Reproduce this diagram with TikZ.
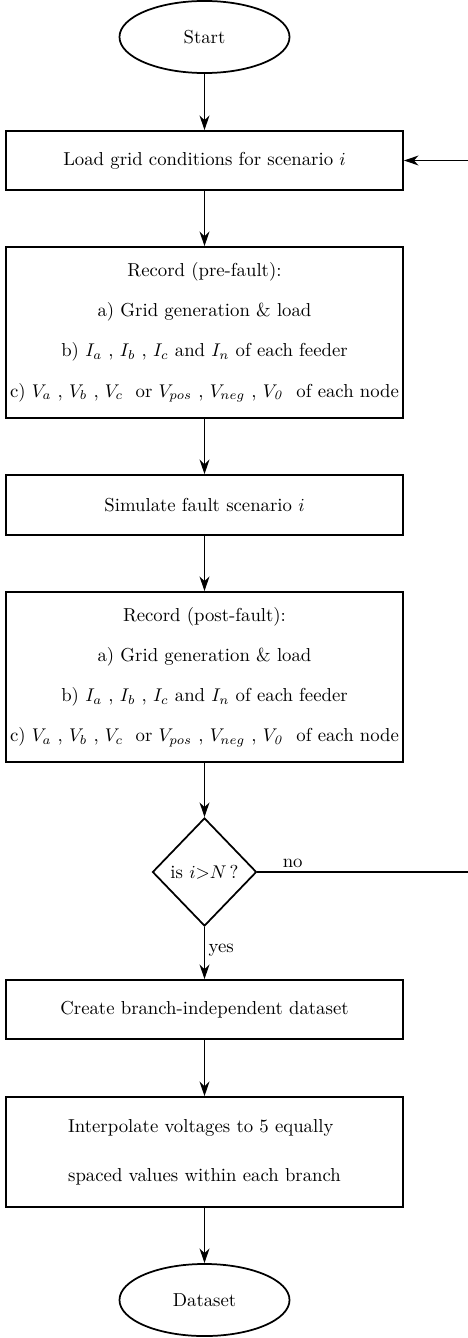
\documentclass[tikz,border=0pt]{standalone}
\usetikzlibrary{shapes.geometric,arrows.meta}
\begin{document}
\begin{tikzpicture}[x=0.544pt,y=-0.544pt,font=\fontsize{10.2}{12.2}\selectfont,
  proc/.style={draw,line width=0.95pt,rectangle,minimum width=216pt,inner sep=0pt,align=center},
  term/.style={draw,line width=0.95pt,ellipse,minimum width=92.5pt,minimum height=39.2pt,inner sep=0pt},
  decis/.style={draw,line width=0.95pt,diamond,minimum width=56.6pt,minimum height=58.8pt,inner sep=0pt},
  conn/.style={line width=0.6pt,-{Stealth[length=8pt,width=5.4pt,inset=2.6pt]}},
  lbl/.style={inner sep=0pt},
  rec/.style={proc,execute at begin node={\setlength{\baselineskip}{21.8pt}}}]
\useasboundingbox (0,0) rectangle (468,1338);
\clip (0,0) rectangle (468,1338);
\node[term] (start) at (204.5,37) {Start};
\node[proc,minimum height=32.1pt] (load) at (204.5,160.5) {Load grid conditions for scenario $i$};
\node[rec,minimum height=93pt] (pre) at (204.5,332.5) {Record (pre-fault):\\
a) Grid generation \& load\\
b) $I_a$ , $I_b$ , $I_c$ and $I_n$ of each feeder\\
c) $V_a$ , $V_b$ , $V_c$\ \ or $V_{pos}$ , $V_{neg}$ , $V_{\mathit{0}}$\ \ of each node};
\node[proc,minimum height=32.6pt] (sim) at (204.5,505) {Simulate fault scenario $i$};
\node[rec,minimum height=92.5pt] (post) at (204.5,677) {Record (post-fault):\\
a) Grid generation \& load\\
b) $I_a$ , $I_b$ , $I_c$ and $I_n$ of each feeder\\
c) $V_a$ , $V_b$ , $V_c$\ \ or $V_{pos}$ , $V_{neg}$ , $V_{\mathit{0}}$\ \ of each node};
\node[decis] (dec) at (204.5,872) {is $i{>}N\,$?};
\node[proc,minimum height=32.1pt] (create) at (204.5,1009.5) {Create branch-independent dataset};
\node[proc,minimum height=59.8pt,align=left,execute at begin node={\setlength{\baselineskip}{26.7pt}}] (interp) at (204.5,1152) {Interpolate voltages to 5 equally\\spaced values within each branch};
\node[term] (data) at (204.5,1300) {Dataset};
\coordinate (r1) at (478,872);
\coordinate (r2) at (478,160.5);
\draw[conn] (start) -- (load);
\draw[conn] (load) -- (pre);
\draw[conn] (pre) -- (sim);
\draw[conn] (sim) -- (post);
\draw[conn] (post) -- (dec);
\draw[conn] (dec) -- node[lbl,right,xshift=2pt,yshift=1.5pt] {yes} (create);
\draw[conn] (create) -- (interp);
\draw[conn] (interp) -- (data);
\draw[conn] (dec.east) -- node[lbl,pos=0.16,above,yshift=2pt] {no} (r1) -- (r2) -- (load.east);
\end{tikzpicture}
\end{document}
